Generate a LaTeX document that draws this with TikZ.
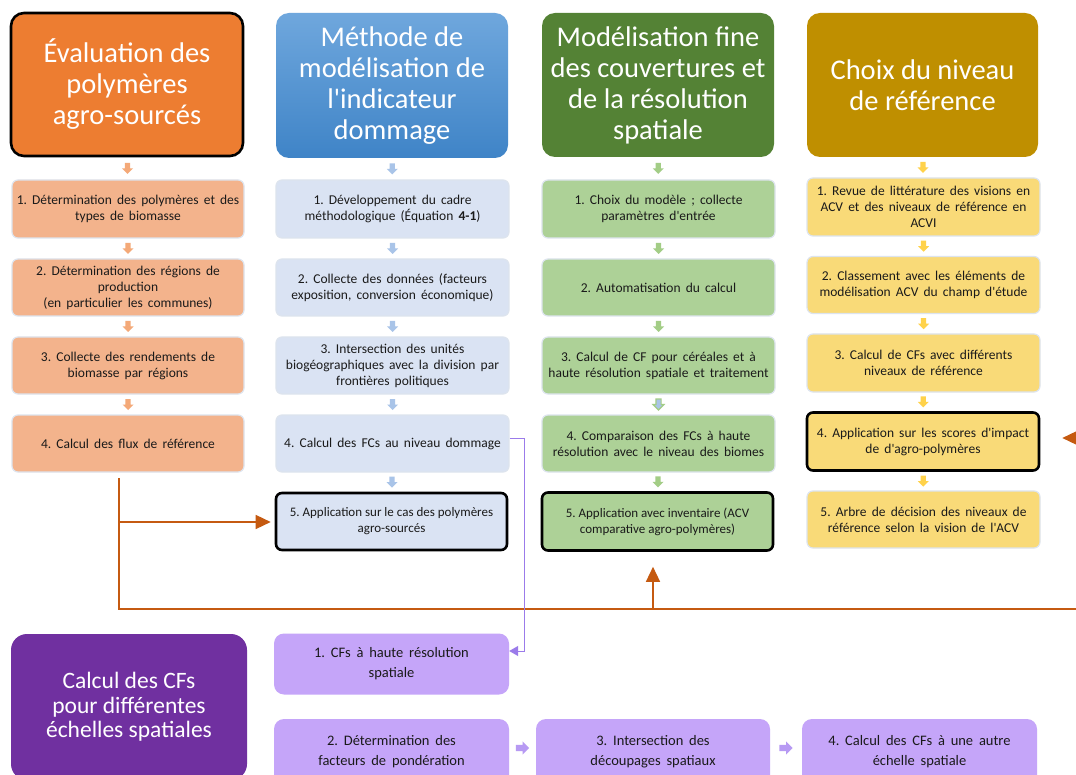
\documentclass[tikz,border=0pt]{standalone}
\usepackage{fontspec}
\setmainfont{Carlito}[Ligatures=TeXOff]
\usetikzlibrary{calc,arrows.meta}

\definecolor{hOrange}{HTML}{ED7D31}
\definecolor{hBlueT}{HTML}{6FA7DD}
\definecolor{hBlueB}{HTML}{3F84C7}
\definecolor{hGreen}{HTML}{548235}
\definecolor{hGold}{HTML}{BF8F00}
\definecolor{hPurple}{HTML}{7030A0}
\definecolor{bOrange}{HTML}{F3B38C}
\definecolor{bBlue}{HTML}{DAE3F3}
\definecolor{bGreen}{HTML}{ADD197}
\definecolor{bYellow}{HTML}{F9DA78}
\definecolor{bPurple}{HTML}{C5A5F9}
\definecolor{aOrange}{HTML}{F4A978}
\definecolor{aBlue}{HTML}{A9C4E8}
\definecolor{aGreen}{HTML}{A3CD86}
\definecolor{aYellow}{HTML}{FFD24A}
\definecolor{aPurple}{HTML}{B79AF3}
\definecolor{boxLine}{HTML}{DDE4EE}
\definecolor{txt}{HTML}{1A1A1A}
\definecolor{link}{HTML}{C55A11}
\definecolor{plink}{HTML}{9B7BEA}

% text settings for the step boxes (wide word spacing)
\newcommand\stepfont{\fontsize{13.5}{16}\selectfont\frenchspacing
  \spaceskip 0.38em plus 0.1em\relax}
\newcommand\tightfont{\fontsize{13}{16}\selectfont\frenchspacing}
\newcommand\purplefont{\fontsize{14.5}{20}\selectfont\frenchspacing
  \spaceskip 0.4em plus 0.1em\relax}

\tikzset{
  hdr/.style={rounded corners=13pt, text=white, align=center, inner sep=0pt,
    font=\fontsize{28.5}{31}\selectfont},
  box/.style={rounded corners=6pt, draw=boxLine, line width=1.2pt, align=center,
    text=txt, inner sep=0pt, font=\stepfont},
  pbox/.style={rounded corners=10pt, fill=bPurple, align=center, text=txt,
    inner sep=0pt, font=\purplefont},
  heavy/.style={draw=black, line width=2.6pt},
  wh/.style 2 args={minimum width=#1pt, minimum height=#2pt},
  oline/.style={draw=link, line width=1.4pt},
  pline/.style={draw=plink, line width=1pt},
  otip/.style={-{Triangle[length=15pt,width=14pt]}},
  darr/.pic={\fill[#1] (-2.6,-5.5) -- (2.6,-5.5) -- (2.6,0) -- (5.5,0)
     -- (0,5.5) -- (-5.5,0) -- (-2.6,0) -- cycle;},
  darrmix/.pic={\filldraw[fill=aBlue, draw=aGreen, line width=1.2pt]
     (-2.6,-5.5) -- (2.6,-5.5) -- (2.6,0) -- (5.5,0)
     -- (0,5.5) -- (-5.5,0) -- (-2.6,0) -- cycle;},
  rarr/.pic={\fill[#1] (-5.5,-2.6) -- (0,-2.6) -- (0,-5.5) -- (5.5,0)
     -- (0,5.5) -- (0,2.6) -- (-5.5,2.6) -- cycle;},
}

\begin{document}
\begin{tikzpicture}[x=1pt,y=-1pt]
\useasboundingbox (0,0) rectangle (1076,775);
\clip (0,0) rectangle (1076,775);
\fill[white] (0,0) rectangle (1076,775);

% column headers
\node[hdr, fill=hOrange, heavy, wh={232}{143}] (h1) at (127,84.5)
  {Évaluation des\\polymères\\agro-sourcés};
\node[hdr, top color=hBlueT, bottom color=hBlueB, wh={232}{145}] (h2) at (392,85.5)
  {Méthode de\\modélisation de\\l'indicateur\\dommage};
\node[hdr, fill=hGreen, wh={232}{144}] (h3) at (658,85)
  {Modélisation fine\\des couvertures et\\de la résolution\\spatiale};
\node[hdr, fill=hGold, wh={231}{144}] (h4) at (922.5,85)
  {Choix du niveau\\de référence};

% column 1
\node[box, fill=bOrange, wh={232}{58}] (o1) at (128,209)
  {1. Détermination des polymères et des\\types de biomasse};
\node[box, fill=bOrange, wh={232}{57}] (o2) at (128,287.5)
  {2. Détermination des régions de\\production\\(en particulier les communes)};
\node[box, fill=bOrange, wh={232}{57}] (o3) at (128,365.5)
  {3. Collecte des rendements de\\biomasse par régions};
\node[box, fill=bOrange, wh={232}{57}] (o4) at (128,443.5)
  {4. Calcul des flux de référence};

% column 2
\node[box, fill=bBlue, wh={233}{58}] (b1) at (392.5,209)
  {1. Développement du cadre\\méthodologique (Équation \textbf{4-1})};
\node[box, fill=bBlue, wh={233}{57}] (b2) at (392.5,287.5)
  {2. Collecte des données (facteurs\\exposition, conversion économique)};
\node[box, fill=bBlue, wh={233}{57}] (b3) at (392.5,365.5)
  {3. Intersection des unités\\biogéographiques avec la division par\\frontières politiques};
\node[box, fill=bBlue, wh={233}{57}] (b4) at (392.5,443.5)
  {4. Calcul des FCs au niveau dommage};
\node[box, fill=bBlue, heavy, wh={231}{57}, font=\tightfont] (b5) at (391.5,521.5)
  {5. Application sur le cas des polymères\\agro-sourcés};

% column 3
\node[box, fill=bGreen, wh={233}{58}] (g1) at (658.5,209)
  {1. Choix du modèle ; collecte\\paramètres d'entrée};
\node[box, fill=bGreen, wh={233}{57}] (g2) at (658.5,287.5)
  {2. Automatisation du calcul};
\node[box, fill=bGreen, wh={233}{57}] (g3) at (658.5,365.5)
  {3. Calcul de CF pour céréales et à\\haute résolution spatiale et traitement};
\node[box, fill=bGreen, wh={233}{57}] (g4) at (658.5,443.5)
  {4. Comparaison des FCs à haute\\résolution avec le niveau des biomes};
\node[box, fill=bGreen, heavy, wh={231}{58}, font=\tightfont] (g5) at (657.5,521.5)
  {5. Application avec inventaire (ACV\\comparative agro-polymères)};

% column 4
\node[box, fill=bYellow, wh={233}{58}] (y1) at (923.5,207)
  {1. Revue de littérature des visions en\\ACV et des niveaux de référence en\\ACVI};
\node[box, fill=bYellow, wh={233}{57}] (y2) at (923.5,285)
  {2. Classement avec les éléments de\\modélisation ACV du champ d'étude};
\node[box, fill=bYellow, wh={233}{58}] (y3) at (923.5,363)
  {3. Calcul de CFs avec différents\\niveaux de référence};
\node[box, fill=bYellow, heavy, wh={232}{58}] (y4) at (923,441.5)
  {4. Application sur les scores d'impact\\de d'agro-polymères};
\node[box, fill=bYellow, wh={233}{57}] (y5) at (923.5,519.5)
  {5. Arbre de décision des niveaux de\\référence selon la vision de l'ACV};

% purple block
\node[hdr, fill=hPurple, rounded corners=16pt, wh={236}{146},
  font=\fontsize{23.5}{24.5}\selectfont] (ph) at (129,707)
  {Calcul des CFs\\pour différentes\\échelles spatiales};
\node[pbox, wh={235}{61}] (p1) at (391.5,664)
  {1. CFs à haute résolution\\spatiale};
\node[pbox, wh={235}{66}] (p2) at (391.5,752)
  {2. Détermination des\\facteurs de pondération};
\node[pbox, wh={234}{66}] (p3) at (653,752)
  {3. Intersection des\\découpages spatiaux};
\node[pbox, wh={235}{66}] (p4) at (919.5,752)
  {4. Calcul des CFs à une autre\\échelle spatiale};

% small block arrows inside the columns
\foreach \a/\b in {h1/o1,o1/o2,o2/o3,o3/o4}
  \pic at ($(\a.south)!.5!(\b.north)$) {darr=aOrange};
\foreach \a/\b in {h2/b1,b1/b2,b2/b3,b3/b4,b4/b5}
  \pic at ($(\a.south)!.5!(\b.north)$) {darr=aBlue};
\foreach \a/\b in {h3/g1,g1/g2,g2/g3,g4/g5}
  \pic at ($(\a.south)!.5!(\b.north)$) {darr=aGreen};
\pic at ($(g3.south)!.5!(g4.north)$) {darrmix};
\foreach \a/\b in {h4/y1,y1/y2,y2/y3,y3/y4,y4/y5}
  \pic at ($(\a.south)!.5!(\b.north)$) {darr=aYellow};
\pic[scale=1.3] at ($(p1.south)+(-4,0)!.5!(p2.north)$) {darr=aPurple};
\pic[scale=1.2] at ($(p2.east)!.5!(p3.west)+(0,-4)$) {rarr=aPurple};
\pic[scale=1.2] at ($(p3.east)!.5!(p4.west)+(0,-4)$) {rarr=aPurple};

% orange feedback lines
\coordinate (oa) at (119,478);
\coordinate (oc) at (119,609);
\coordinate (obr) at (119,522);
\coordinate (oe) at (1076,609);
\coordinate (othk) at (419,609);
\coordinate (oup) at (653,609);
\coordinate (oright) at (1078,438);
\draw[oline] (oa) -- (oc) -- (oe);
\draw[oline, line width=2.6pt] (othk) -- (oup);
\draw[oline, otip, shorten >=4pt] (obr) -- (obr -| b5.west);
\draw[oline, otip, shorten >=15pt] (oup) -- (oup |- g5.south);
\draw[oline, otip, shorten >=22pt] (oright) -- (oright -| y4.east);

% purple link from the damage indicator to the high-resolution CFs
\coordinate (pa) at (524,438);
\coordinate (pb) at (524,651);
\draw[pline, -{Triangle[length=9pt,width=10pt]}]
  (pa -| b4.east) -- (pa) -- (pb) -- (pb -| p1.east);
\end{tikzpicture}
\end{document}
